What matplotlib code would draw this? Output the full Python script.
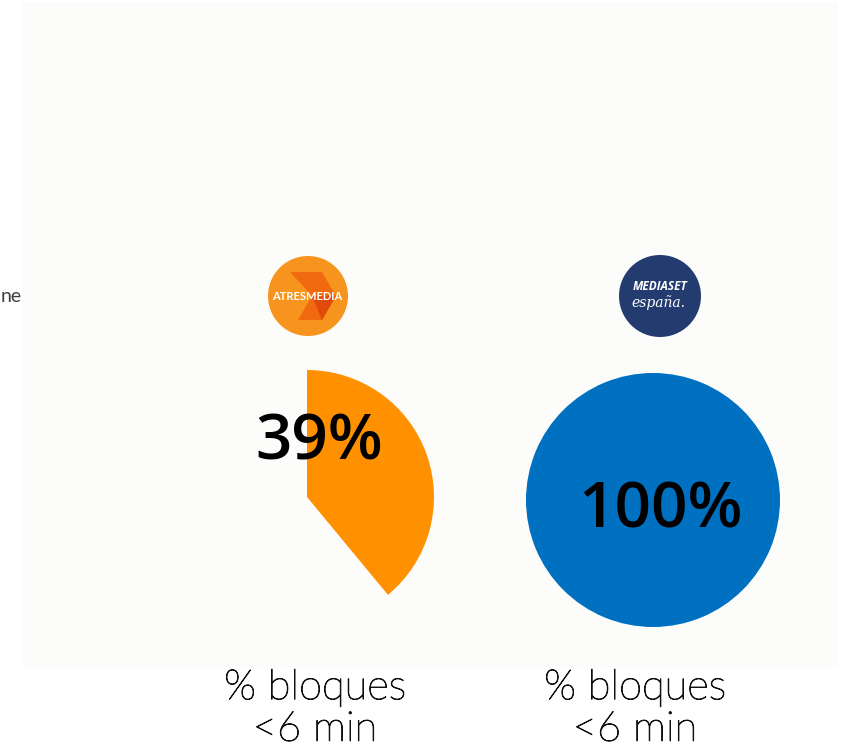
import matplotlib.pyplot as plt
import matplotlib.patheffects as pe
from matplotlib.patches import Rectangle, Circle, Polygon

# data
groups = ["Atresmedia", "Mediaset España"]
values = [39, 100]
labels = ["39%", "100%"]
colors = ["#FF9100", "#0070C0"]
caption = "% bloques\n<6 min"

W, H = 844, 749
fig = plt.figure(figsize=(W / 100, H / 100), dpi=100)
fig.patch.set_facecolor("white")

# panel background
fig.patches.append(Rectangle((22 / W, (H - 667) / H), (838 - 22) / W, (667 - 2) / H,
                             transform=fig.transFigure, facecolor="#FCFCFA",
                             edgecolor="none", zorder=-1))

# clipped legend text on the left
fig.text(22 / W, 1 - 297 / H, "ne", ha="right", va="center", fontsize=14,
         color="#404040", family="Lato")

centers = [(307, 497), (653, 500)]
label_pos = [(319, 443), (660, 511)]
r = 127

for i, (v, c) in enumerate(zip(values, colors)):
    cx, cy = centers[i]
    ax = fig.add_axes([(cx - r) / W, (H - cy - r) / H, 2 * r / W, 2 * r / H])
    ax.pie([v, 100 - v] if v < 100 else [v], colors=[c, "none"], startangle=90,
           counterclock=False, radius=1, wedgeprops=dict(linewidth=0))
    ax.set_xlim(-1, 1)
    ax.set_ylim(-1, 1)
    ax.set_aspect("equal")
    ax.axis("off")
    lx, ly = label_pos[i]
    fig.text(lx / W, 1 - ly / H, labels[i], ha="center", va="center",
             fontsize=46, fontweight="semibold", family="Open Sans", color="black",
             zorder=5)

# captions under each pie
for x in [315, 635]:
    fig.text(x / W, 1 - 709 / H, caption, ha="center", va="center", fontsize=30,
             family="Lato", fontweight="light", color="#111111", linespacing=1.12,
             path_effects=[pe.withStroke(linewidth=0.7, foreground="#111111")])

# logos
lax = fig.add_axes([0, 0, 1, 1])
lax.set_xlim(0, W)
lax.set_ylim(H, 0)
lax.axis("off")
lax.add_patch(Circle((308, 296), 40, facecolor="#F7941D", edgecolor="none"))
lax.add_patch(Polygon([(290, 272), (322, 272), (336, 296), (322, 320), (298, 320), (312, 296)],
                      facecolor="#F26A10", edgecolor="none"))
lax.add_patch(Polygon([(312, 296), (336, 296), (322, 320)], facecolor="#E04A0A", edgecolor="none"))
lax.text(307, 296, "ATRESMEDIA", ha="center", va="center", fontsize=8,
         fontweight="bold", color="white", family="Lato")
lax.add_patch(Circle((660, 296), 41, facecolor="#243B70", edgecolor="none"))
lax.text(660, 287, "MEDIASET", ha="center", va="center", fontsize=8.5,
         fontweight="bold", style="italic", color="white", family="Open Sans")
lax.text(658, 303, "españa.", ha="center", va="center", fontsize=10,
         style="italic", color="white", family="DejaVu Serif")

fig.savefig("out.png", dpi=100)
